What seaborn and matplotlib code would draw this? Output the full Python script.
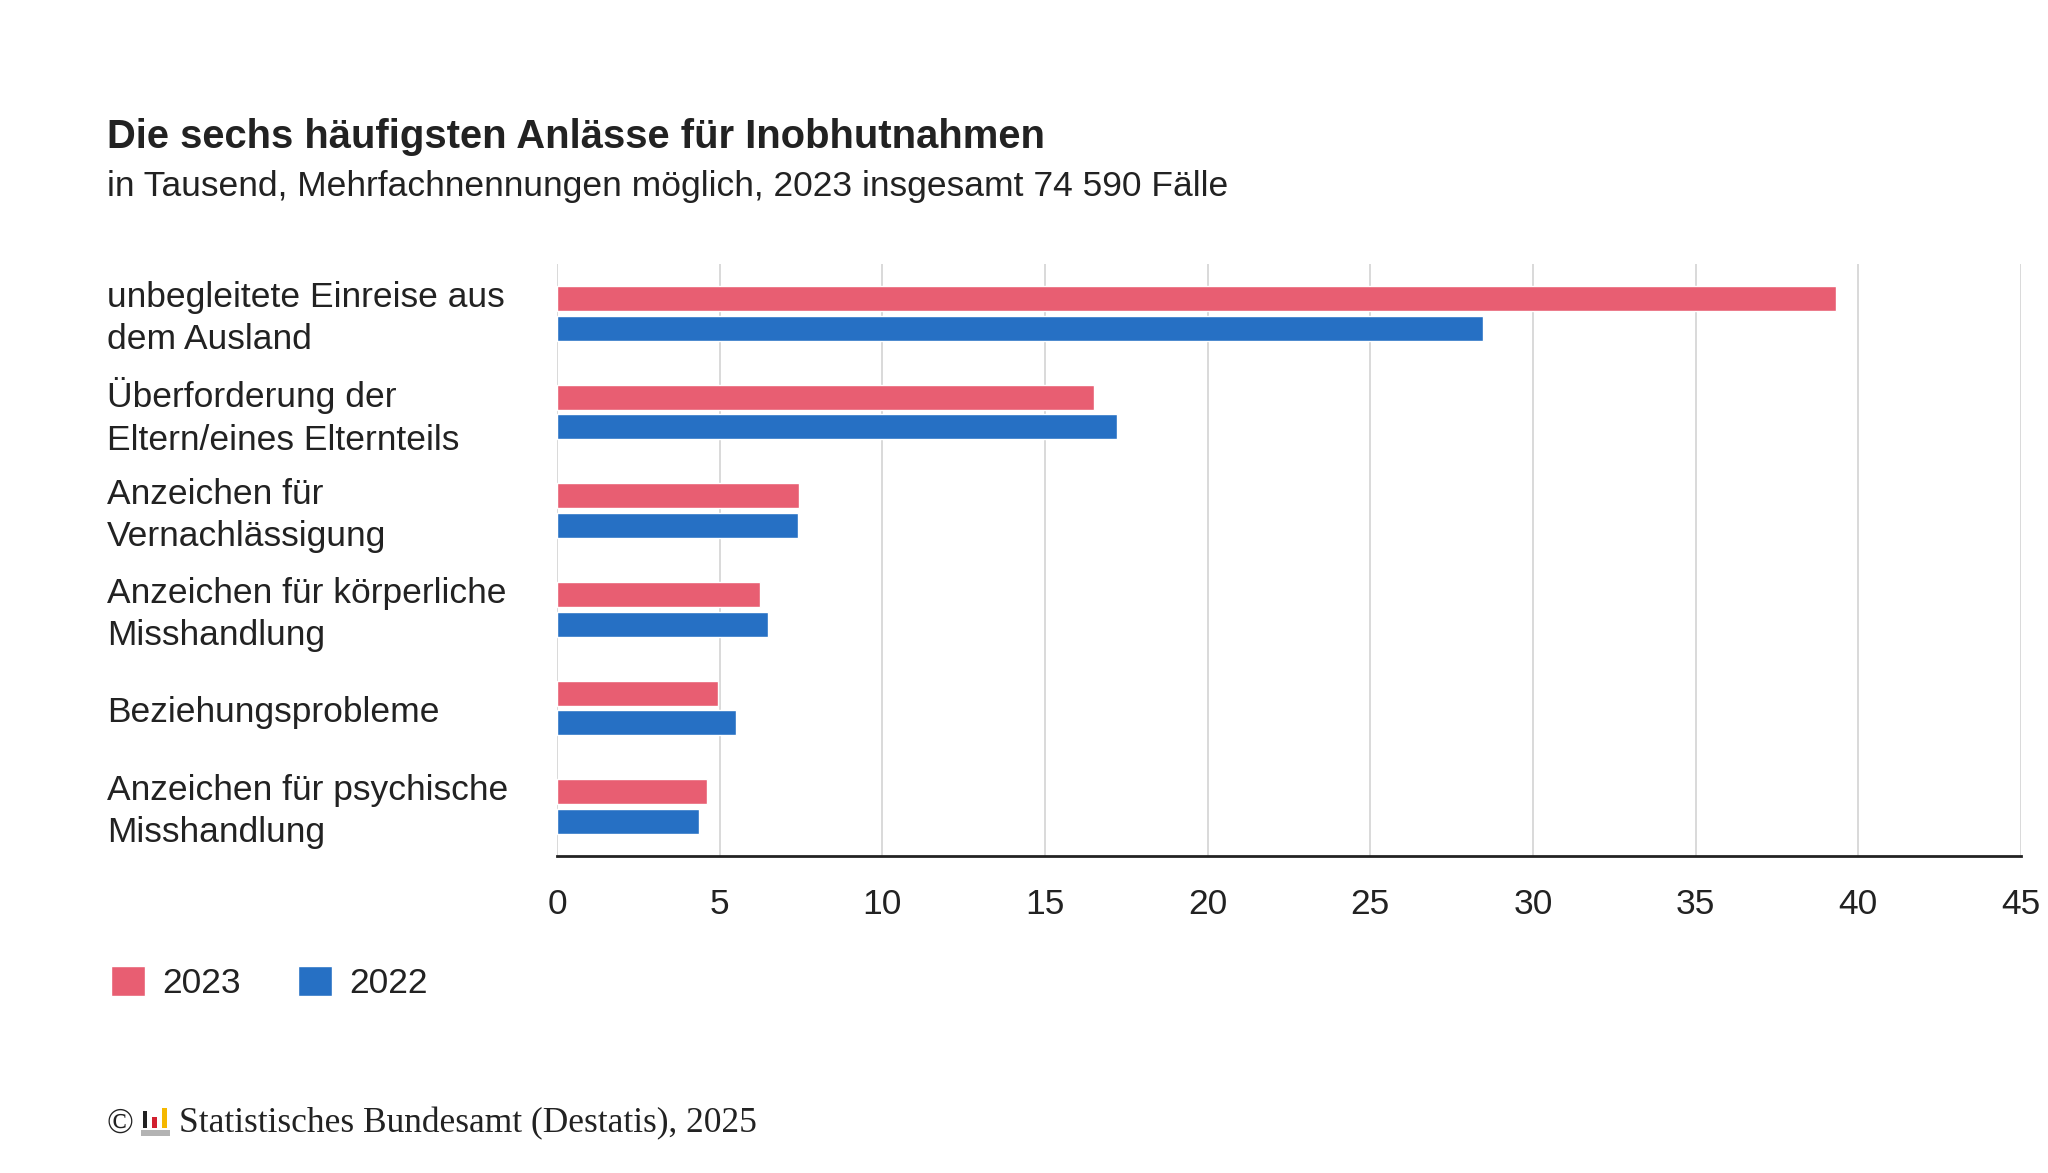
import matplotlib
matplotlib.use("Agg")
import matplotlib.pyplot as plt
import matplotlib.transforms as mtransforms
from matplotlib.patches import Rectangle
import seaborn as sns
import pandas as pd

categories = [
    "unbegleitete Einreise aus\ndem Ausland",
    "Überforderung der\nEltern/eines Elternteils",
    "Anzeichen für\nVernachlässigung",
    "Anzeichen für körperliche\nMisshandlung",
    "Beziehungsprobleme",
    "Anzeichen für psychische\nMisshandlung",
]
values_2023 = [39.3, 16.5, 7.45, 6.25, 4.95, 4.6]
values_2022 = [28.45, 17.2, 7.4, 6.5, 5.5, 4.35]
series = ["2023", "2022"]
xticks = [0, 5, 10, 15, 20, 25, 30, 35, 40, 45]

title = "Die sechs häufigsten Anlässe für Inobhutnahmen"
subtitle = "in Tausend, Mehrfachnennungen möglich, 2023 insgesamt 74 590 Fälle"
footer = "Statistisches Bundesamt (Destatis), 2025"

RED = "#E85E72"
BLUE = "#2670C4"
TXT = "#222222"
FS = 25.5

df = pd.DataFrame({
    "Anlass": categories * 2,
    "Wert": values_2023 + values_2022,
    "Jahr": [series[0]] * len(categories) + [series[1]] * len(categories),
})

sns.set_theme(style="white")
plt.rcParams["font.family"] = ["Liberation Sans", "DejaVu Sans"]

fig = plt.figure(figsize=(20.48, 11.73), dpi=100)
ax = fig.add_axes([557 / 2048, 1 - 856 / 1173, (2021 - 557) / 2048, (856 - 264) / 1173])

sns.barplot(data=df, x="Wert", y="Anlass", hue="Jahr", order=categories,
            hue_order=series, palette=[RED, BLUE], orient="h",
            width=0.6, gap=0.16, ax=ax, saturation=1, errorbar=None)

ax.set_xlim(0, 45)
ax.set_ylim(len(categories) - 0.5, -0.5)
ax.set_xticks(xticks)
ax.set_xticklabels([str(t) for t in xticks], fontsize=FS, color=TXT)
ax.tick_params(axis="x", length=8, width=1.5, color=TXT, pad=15, direction="out")
ax.tick_params(axis="y", length=0)
ax.set_yticklabels([])
ax.set_xlabel("")
ax.set_ylabel("")
ax.xaxis.grid(True, color="#d0d0d0", linewidth=1.1)
ax.set_axisbelow(True)
for s in ["top", "right", "left"]:
    ax.spines[s].set_visible(False)
ax.spines["bottom"].set_color(TXT)
ax.spines["bottom"].set_linewidth(2)

# category labels, left aligned
trans = mtransforms.blended_transform_factory(fig.transFigure, ax.transData)
trans = mtransforms.offset_copy(trans, fig=fig, x=0, y=-5, units="dots")
for i, c in enumerate(categories):
    ax.text(107 / 2048, i, c, transform=trans, ha="left", va="center",
            fontsize=FS, color=TXT, linespacing=1.35)

# legend
handles, labels = ax.get_legend_handles_labels()
if ax.get_legend() is not None:
    ax.get_legend().remove()
fig.legend(handles, labels, loc="center left", bbox_to_anchor=(111 / 2048, 1 - 983 / 1173),
           ncol=2, frameon=False, fontsize=FS, handlelength=0.95, handleheight=0.95,
           handletextpad=0.5, columnspacing=1.62, borderpad=0, borderaxespad=0,
           labelcolor=TXT)

# title & subtitle
fig.text(107 / 2048, 1 - 137 / 1173, title, fontsize=28.8, fontweight="bold",
         color=TXT, ha="left", va="center")
fig.text(107 / 2048, 1 - 186 / 1173, subtitle, fontsize=FS, color=TXT,
         ha="left", va="center")

# footer
fy = 1 - 1124 / 1173
fig.text(106 / 2048, fy, "©", fontsize=FS, color=TXT, ha="left", va="center",
         family=["Liberation Serif", "DejaVu Serif"])
W, H = 2048, 1173
def fr(x0, y0, w, h, color):
    fig.add_artist(Rectangle((x0 / W, 1 - (y0 + h) / H), w / W, h / H,
                             transform=fig.transFigure, color=color, lw=0))
fr(141, 1130, 29, 6, "#b3b3b3")
fr(143, 1111, 4, 17, "#222222")
fr(152, 1117, 5, 11, "#d2202f")
fr(162, 1108, 5, 20, "#f5b800")
fig.text(179 / 2048, fy, footer, fontsize=FS, color=TXT, ha="left", va="center",
         family=["Liberation Serif", "DejaVu Serif"])

fig.savefig("out.png", dpi=100, facecolor="white")
